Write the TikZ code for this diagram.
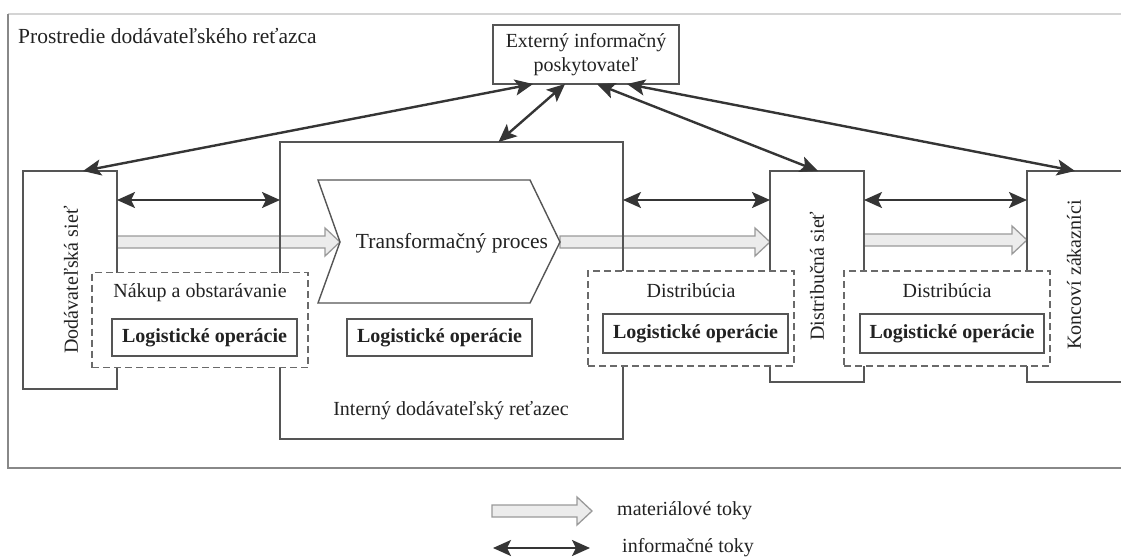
\documentclass[tikz,border=0pt]{standalone}
\usepackage{fontspec}
\setmainfont{Liberation Serif}
\usetikzlibrary{arrows.meta,calc,backgrounds}

\definecolor{txt}{HTML}{222222}
\definecolor{boxc}{HTML}{555555}
\definecolor{dashc}{HTML}{6A6A6A}
\definecolor{arrc}{HTML}{353535}
\definecolor{matfill}{HTML}{ECECEC}
\definecolor{matline}{HTML}{9A9A9A}
\definecolor{framec}{HTML}{888888}
\definecolor{framelt}{HTML}{D4D4D4}

% block arrow for material flows: start coordinate, end coordinate
\newcommand\matflow[2]{%
  \draw[matstyle] let \p1=(#1), \p2=(#2) in
    (\x1,{\y1+6pt}) -- ({\x2-15pt},{\y1+6pt}) -- ({\x2-15pt},{\y1+14pt})
    -- (\x2,\y1) -- ({\x2-15pt},{\y1-14pt}) -- ({\x2-15pt},{\y1-6pt})
    -- (\x1,{\y1-6pt}) -- cycle;}

\tikzset{
  lbl/.style={text=txt, inner sep=1pt, font=\fontsize{20}{24}\selectfont},
  biglbl/.style={text=txt, inner sep=1pt, font=\fontsize{21.5}{26}\selectfont},
  box/.style={draw=boxc, line width=1.4pt, inner sep=0pt, outer sep=0pt},
  dbox/.style={draw=dashc, fill=white, line width=1.4pt, dash pattern=on 7pt off 4pt,
    inner sep=0pt, outer sep=0pt},
  lopbox/.style={draw=boxc, fill=white, line width=1.4pt, inner sep=0pt, outer sep=0pt,
    text=txt, font=\fontsize{20}{24}\selectfont\bfseries},
  tipi/.tip={Stealth[length=18pt,width=16pt,inset=4pt]},
  info/.style={draw=arrc, line width=2.4pt, tipi-tipi},
  matstyle/.style={draw=matline, fill=matfill, line width=1.3pt, line join=miter},
}

\begin{document}
\begin{tikzpicture}[x=1pt,y=-1pt]
\useasboundingbox (0,0) rectangle (1121,557);
\clip (0,0) rectangle (1121,557);

% title of the surrounding environment
\node[biglbl, anchor=base west] (title) at (17,43) {Prostredie dodávateľského reťazca};

% external information provider
\node[box, minimum width=186pt, minimum height=59pt, align=center, lbl] (ext) at (586,54.5)
  {Externý informačný\\poskytovateľ};

% supplier network
\node[box, minimum width=94pt, minimum height=218pt] (dod) at (70,280) {};
\node[lbl, rotate=90] (dodlbl) at (71,280) {Dodávateľská sieť};

% internal supply chain
\node[box, minimum width=343pt, minimum height=297pt] (intern) at (451.5,290.5) {};
\node[lbl] (internlbl) at (451,411) {Interný dodávateľský reťazec};

% transformation process chevron
\coordinate (chN) at (340,242);
\coordinate (chT) at (560,242);
\draw[draw=boxc, line width=1.4pt, line join=miter]
  (318,180) -- (530,180) -- (chT) -- (530,303) -- (318,303) -- (chN) -- cycle;
\node[biglbl] (trans) at (452,243) {Transformačný proces};

% distribution network and end customers
\node[box, minimum width=94pt, minimum height=211pt] (dist) at (817,276.5) {};
\node[lbl, rotate=90] (distlbl) at (817,276) {Distribučná sieť};
\node[box, minimum width=96pt, minimum height=211pt] (konc) at (1075,276.5) {};
\node[lbl, rotate=90] (konclbl) at (1074,275) {Koncoví zákazníci};

% dashed activity areas
\node[dbox, minimum width=216pt, minimum height=95pt] (nak) at (200,320) {};
\node[lbl] (naklbl) at (200,293) {Nákup a obstarávanie};
\node[dbox, minimum width=206pt, minimum height=95pt] (dis1) at (691,318.5) {};
\node[lbl] (dis1lbl) at (691,291) {Distribúcia};
\node[dbox, minimum width=206pt, minimum height=95pt] (dis2) at (947,318.5) {};
\node[lbl] (dis2lbl) at (947,291) {Distribúcia};

% logistic operations
\node[lopbox, minimum width=185pt, minimum height=37pt] (lo1) at (204.5,337.5) {Logistické operácie};
\node[lopbox, minimum width=185pt, minimum height=37pt] (lo2) at (439.5,337.5) {Logistické operácie};
\node[lopbox, minimum width=185pt, minimum height=39pt] (lo3) at (695.5,333.5) {Logistické operácie};
\node[lopbox, minimum width=184pt, minimum height=39pt] (lo4) at (952,333.5) {Logistické operácie};

% information flows
\coordinate (iy) at (0,200);
\draw[info] (dod.east |- iy) -- (intern.west |- iy);
\draw[info] (intern.east |- iy) -- (dist.west |- iy);
\draw[info] (dist.east |- iy) -- (konc.west |- iy);
\draw[info] ([xshift=-53pt]ext.south) -- ([xshift=13pt]dod.north);
\draw[info] ([xshift=-21pt]ext.south) -- ([xshift=47pt]intern.north);
\draw[info] ([xshift=11pt]ext.south) -- ([xshift=1pt]dist.north);
\draw[info] ([xshift=41pt]ext.south) -- (konc.north);

% legend
\coordinate (lm1) at (492,511);
\coordinate (lm2) at (592,511);
\node[lbl, anchor=west] (lmt) at (616,511) {materiálové toky};
\coordinate (li1) at (493,548);
\coordinate (li2) at (590,548);
\draw[info] (li1) -- (li2);
\node[lbl, anchor=west] (lit) at (621,548) {informačné toky};

\begin{scope}[on background layer]
  \fill[white] (0,0) rectangle (1121,557);
  % surrounding frame
  \draw[framelt, line width=1.6pt] (8,14) -- (1135,14);
  \draw[framec, line width=1.6pt] (8,14) -- (8,468) -- (1135,468);
  % material flows
  \coordinate (m3) at (0,240);
  \matflow{dod.east |- chN}{chN}
  \matflow{chT}{dist.west |- chT}
  \matflow{dist.east |- m3}{konc.west |- m3}
  \matflow{lm1}{lm2}
\end{scope}
\end{tikzpicture}
\end{document}
